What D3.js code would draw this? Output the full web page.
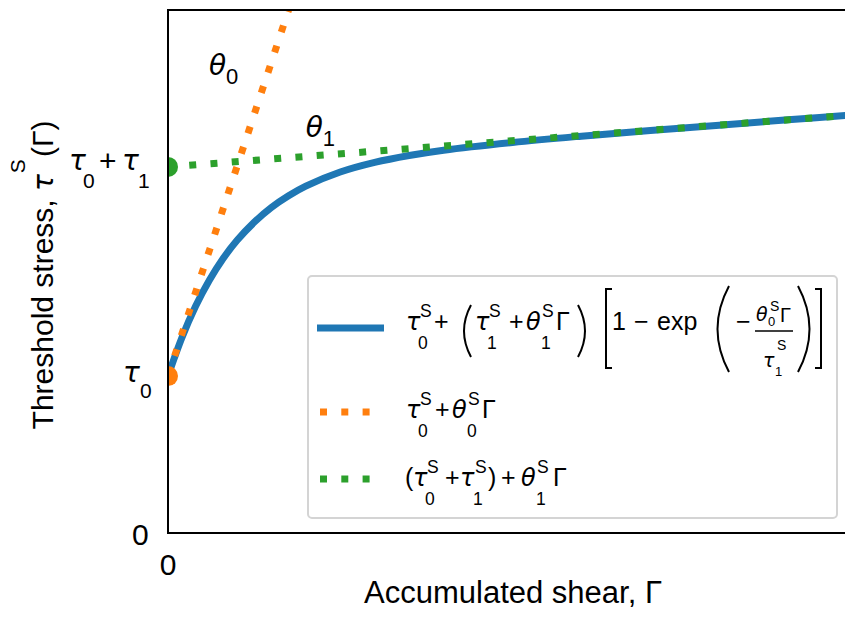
<!DOCTYPE html>
<html>
<head>
<meta charset="utf-8">
<script src="https://cdn.jsdelivr.net/npm/d3@7"></script>
<style>
  body { margin: 0; background: #fff; }
  svg { display: block; font-family: 'Liberation Sans', Arial, sans-serif; }
  .greek { font-family: 'DejaVu Sans', sans-serif; font-style: oblique; }
</style>
</head>
<body>
<div id="chart"></div>
<script>
// --- data ---
const shear = [0, 0.2, 0.4, 0.6, 0.8, 1.0, 1.25, 1.5, 1.75, 2.0, 2.5, 3.0, 3.5, 4.0, 5.0, 6.0, 7.0, 8.0, 9.0, 10.0];
const thresholdStress = [1.500, 1.864, 2.167, 2.416, 2.624, 2.796, 2.970, 3.112, 3.224, 3.316, 3.451, 3.543, 3.609, 3.660, 3.734, 3.794, 3.848, 3.899, 3.950, 4.000];
const initialTangent = [[0, 1.5], [1.75, 5.0]];     // tau0 + theta0*G
const saturationTangent = [[0, 3.5], [10, 4.0]];    // (tau0+tau1) + theta1*G
const markerPoints = [[0, 1.5, "#ff7f0e"], [0, 3.5, "#2ca02c"]];
const yTickValues = [0, 1.5, 3.5];
const xTickValues = [0];
const xDomain = [0, 10];
const yDomain = [0, 5];
const annotations = [{ sym: "θ", sub: "0", x: 0.595, y: 4.38 }, { sym: "θ", sub: "1", x: 2.0, y: 3.786 }];

const blue = "#1f77b4", orange = "#ff7f0e", green = "#2ca02c";
const width = 845, height = 621;
const margin = { left: 168, top: 10, right: 857, bottom: 533 };

const svg = d3.select("#chart").append("svg")
    .attr("width", width)
    .attr("height", height);

const x = d3.scaleLinear().domain(xDomain).range([margin.left, margin.right]);
const y = d3.scaleLinear().domain(yDomain).range([margin.bottom, margin.top]);

svg.append("clipPath").attr("id", "plot-clip")
    .append("rect")
    .attr("x", margin.left).attr("y", margin.top)
    .attr("width", margin.right - margin.left)
    .attr("height", margin.bottom - margin.top);

const plot = svg.append("g").attr("clip-path", "url(#plot-clip)");

// blue hardening curve
const curve = d3.line().x(d => x(d[0])).y(d => y(d[1])).curve(d3.curveCatmullRom.alpha(0.5));
plot.append("path")
    .datum(shear.map((g, i) => [g, thresholdStress[i]]))
    .attr("d", curve)
    .attr("fill", "none")
    .attr("stroke", blue)
    .attr("stroke-width", 7);

const straight = d3.line().x(d => x(d[0])).y(d => y(d[1]));
plot.append("path").datum(initialTangent)
    .attr("d", straight)
    .attr("fill", "none").attr("stroke", orange)
    .attr("stroke-width", 7).attr("stroke-dasharray", "7 14.3");
plot.append("path").datum(saturationTangent)
    .attr("d", straight)
    .attr("fill", "none").attr("stroke", green)
    .attr("stroke-width", 7).attr("stroke-dasharray", "7 14.3");

plot.selectAll("circle.marker").data(markerPoints).join("circle")
    .attr("class", "marker")
    .attr("cx", d => x(d[0])).attr("cy", d => y(d[1]))
    .attr("r", 10).attr("fill", d => d[2]);

// spines
const spines = svg.append("g").attr("stroke", "#000").attr("stroke-width", 2);
spines.append("line").attr("x1", margin.left).attr("x2", margin.left).attr("y1", margin.top - 1).attr("y2", margin.bottom + 1);
spines.append("line").attr("x1", margin.left).attr("x2", margin.right).attr("y1", margin.bottom).attr("y2", margin.bottom);
spines.append("line").attr("x1", margin.left).attr("x2", margin.right).attr("y1", margin.top).attr("y2", margin.top);
spines.append("line").attr("x1", margin.right).attr("x2", margin.right).attr("y1", margin.top).attr("y2", margin.bottom);

// helper: place math pieces [text, dx, dy, size, greek]
function mathPieces(g, x0, y0, pieces) {
    pieces.forEach(p => {
        g.append("text")
            .attr("class", p[4] ? "greek" : null)
            .attr("x", x0 + p[1]).attr("y", y0 + p[2])
            .attr("font-size", p[3])
            .attr("fill", "#000")
            .text(p[0]);
    });
}

// y tick labels
const yTickPieces = {
    0: [["0", -18, 12, 30]],
    1.5: [["τ", -27, 6, 28, true], ["0", -10, 22, 21]],
    3.5: [["τ", -81, 3, 28, true], ["0", -67, 21, 21], ["+", -51, 4, 30], ["τ", -28, 3, 28, true], ["1", -12, 21, 21]]
};
const yTicksG = svg.append("g");
yTickValues.forEach(v => mathPieces(yTicksG, 150, y(v), yTickPieces[v]));

// x tick labels
svg.append("g").selectAll("text").data(xTickValues).join("text")
    .attr("x", d => x(d)).attr("y", 575)
    .attr("text-anchor", "middle").attr("font-size", 30)
    .text(d => d);

// axis labels
svg.append("text")
    .attr("x", 513).attr("y", 603)
    .attr("text-anchor", "middle").attr("font-size", 31)
    .text("Accumulated shear, Γ");

const ylab = svg.append("text")
    .attr("transform", "translate(53,275) rotate(-90)")
    .attr("text-anchor", "middle").attr("font-size", 30);
ylab.append("tspan").text("Threshold stress, ");
ylab.append("tspan").attr("class", "greek").attr("font-size", 28).text("τ");
ylab.append("tspan").attr("font-size", 21).attr("dy", -28).attr("dx", 1).text("S");
ylab.append("tspan").attr("dy", 28).attr("dx", 2).text("(Γ)");

// annotations
const annG = svg.append("g");
annotations.forEach(a => {
    mathPieces(annG, x(a.x), y(a.y), [[a.sym, 0, 0, 28, true], [a.sub, 17, 9, 22]]);
});

// legend
const legend = svg.append("g");
legend.append("rect")
    .attr("x", 308).attr("y", 276).attr("width", 529).attr("height", 242)
    .attr("rx", 4)
    .attr("fill", "#fff").attr("fill-opacity", 0.8)
    .attr("stroke", "#d4d4d4").attr("stroke-width", 2);

legend.append("line").attr("x1", 317).attr("x2", 384).attr("y1", 328).attr("y2", 328)
    .attr("stroke", blue).attr("stroke-width", 7);
legend.append("line").attr("x1", 320).attr("x2", 372).attr("y1", 412).attr("y2", 412)
    .attr("stroke", orange).attr("stroke-width", 7).attr("stroke-dasharray", "7 14.3");
legend.append("line").attr("x1", 320).attr("x2", 372).attr("y1", 479).attr("y2", 479)
    .attr("stroke", green).attr("stroke-width", 7).attr("stroke-dasharray", "7 14.3");

// entry 1
mathPieces(legend, 407, 330, [
    ["τ", -1, 0, 24, true], ["S", 13, -13, 17.5], ["0", 11, 19, 17.5],
    ["+", 27, 0, 25],
    ["τ", 68, 0, 24, true], ["S", 82, -13, 17.5], ["1", 80, 19, 17.5],
    ["+", 102, 0, 25],
    ["θ", 119, 0, 24, true], ["S", 135, -13, 17.5], ["1", 134, 19, 17.5],
    ["Γ", 149, 0, 25],
    ["1", 205, 0, 25], ["−", 227, 0, 25], ["exp", 250, 0, 25], ["−", 329, 0, 25],
    ["θ", 349, -9, 19, true], ["S", 363, -19, 14], ["0", 361, -4, 13], ["Γ", 373, -8, 20],
    ["τ", 356, 37, 19, true], ["S", 370, 20, 14], ["1", 368, 46, 13]
]);
const delim = legend.append("g").attr("fill", "none").attr("stroke", "#000").attr("stroke-width", 2);
delim.append("path").attr("d", "M471,305 Q457,331 471,357");
delim.append("path").attr("d", "M578,305 Q592,331 578,357");
delim.append("path").attr("d", "M612,289 H606 V368 H612");
delim.append("path").attr("d", "M729,286 Q706,329 729,372");
delim.append("path").attr("d", "M798,286 Q821,329 798,372");
delim.append("path").attr("d", "M815,289 H821 V368 H815");
legend.append("line").attr("x1", 755).attr("x2", 793).attr("y1", 331).attr("y2", 331)
    .attr("stroke", "#000").attr("stroke-width", 1.3);

// entry 2
mathPieces(legend, 407, 418, [
    ["τ", -1, 0, 24, true], ["S", 13, -13, 17.5], ["0", 11, 19, 17.5],
    ["+", 28, 0, 25],
    ["θ", 45, 0, 24, true], ["S", 61, -13, 17.5], ["0", 60, 19, 17.5],
    ["Γ", 75, 0, 25]
]);

// entry 3
mathPieces(legend, 407, 486, [
    ["(", -2, 0, 25],
    ["τ", 6, 0, 24, true], ["S", 20, -13, 17.5], ["0", 18, 19, 17.5],
    ["+", 38, 0, 25],
    ["τ", 53, 0, 24, true], ["S", 68, -13, 17.5], ["1", 66, 19, 17.5],
    [")", 81, 0, 25],
    ["+", 94, 0, 25],
    ["θ", 114, 0, 24, true], ["S", 130, -13, 17.5], ["1", 129, 19, 17.5],
    ["Γ", 146, 0, 25]
]);
</script>
</body>
</html>
